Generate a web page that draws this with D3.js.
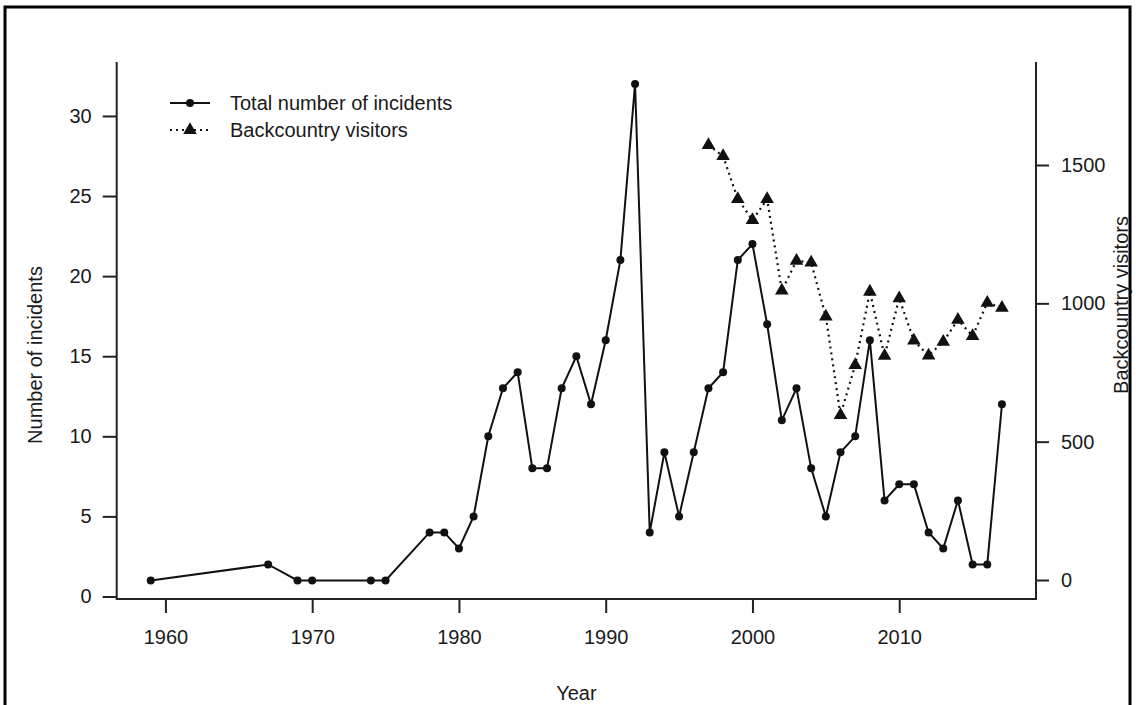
<!DOCTYPE html>
<html>
<head>
<meta charset="utf-8">
<script src="https://cdn.jsdelivr.net/npm/d3@7"></script>
<style>
  html, body { margin: 0; padding: 0; background: #fff; }
  svg { display: block; }
  text { font-family: "Liberation Sans", Arial, Helvetica, sans-serif; fill: #1a1a1a; }
</style>
</head>
<body>
<svg id="chart" width="1136" height="705"></svg>
<script>
// ---- data ----
const incidentYears = [1959,1967,1969,1970,1974,1975,1978,1979,1980,1981,1982,1983,1984,1985,1986,1987,1988,1989,1990,1991,1992,1993,1994,1995,1996,1997,1998,1999,2000,2001,2002,2003,2004,2005,2006,2007,2008,2009,2010,2011,2012,2013,2014,2015,2016,2017];
const incidents = [1,2,1,1,1,1,4,4,3,5,10,13,14,8,8,13,15,12,16,21,32,4,9,5,9,13,14,21,22,17,11,13,8,5,9,10,16,6,7,7,4,3,6,2,2,12];
const visitorYears = [1997,1998,1999,2000,2001,2002,2003,2004,2005,2006,2007,2008,2009,2010,2011,2012,2013,2014,2015,2016,2017];
const visitors = [1572,1532,1377,1301,1377,1046,1154,1147,952,596,777,1042,810,1018,865,811,861,940,882,1002,984];
const xTicks = [1960,1970,1980,1990,2000,2010];
const leftTicks = [0,5,10,15,20,25,30];
const rightTicks = [0,500,1000,1500];
const legendLabels = ["Total number of incidents","Backcountry visitors"];
const xTitle = "Year", leftTitle = "Number of incidents", rightTitle = "Backcountry visitors";

// ---- layout ----
const box = {left: 116.7, right: 1036, top: 62, bottom: 599};
const svg = d3.select("#chart");
const FS = 20;

// outer frame
svg.append("rect").attr("x",5).attr("y",7).attr("width",1125).attr("height",710)
  .attr("fill","none").attr("stroke","#000").attr("stroke-width",3);

const ext = d3.extent(incidentYears), pad = (ext[1]-ext[0])*0.04;
const x = d3.scaleLinear().domain([ext[0]-pad, ext[1]+pad]).range([box.left, box.right]);
const yL = d3.scaleLinear().domain([0,32]).range([596.5, 83.9]);
const yR = d3.scaleLinear().domain([0,1500]).range([580, 165]);

function styleAxis(g){
  g.select(".domain").remove();
  g.selectAll(".tick line").attr("stroke","#222").attr("stroke-width",2);
  g.selectAll(".tick text").attr("font-size",FS).attr("font-family",null).attr("fill","#1a1a1a");
}

svg.append("g").attr("transform",`translate(0,${box.bottom})`)
  .call(d3.axisBottom(x).tickValues(xTicks).tickFormat(d3.format("d")).tickSize(14).tickPadding(17))
  .call(styleAxis);
svg.append("g").attr("transform",`translate(${box.left},0)`)
  .call(d3.axisLeft(yL).tickValues(leftTicks).tickFormat(d3.format("d")).tickSize(14).tickPadding(11))
  .call(styleAxis);
svg.append("g").attr("transform",`translate(${box.right},0)`)
  .call(d3.axisRight(yR).tickValues(rightTicks).tickFormat(d3.format("d")).tickSize(13).tickPadding(12))
  .call(styleAxis);

// box (bty="u")
svg.append("path")
  .attr("d",`M${box.left},${box.top}V${box.bottom}H${box.right}V${box.top}`)
  .attr("fill","none").attr("stroke","#222").attr("stroke-width",2);

// titles
svg.append("text").attr("x",(box.left+box.right)/2).attr("y",700).attr("text-anchor","middle")
  .attr("font-size",FS).text(xTitle);
svg.append("text").attr("transform","translate(42,355) rotate(-90)").attr("text-anchor","middle")
  .attr("font-size",FS).text(leftTitle);
svg.append("text").attr("transform","translate(1128,305) rotate(-90)").attr("text-anchor","middle")
  .attr("font-size",FS).text(rightTitle);

// incidents line
const incData = incidentYears.map((d,i)=>({x:d,y:incidents[i]}));
svg.append("path").datum(incData)
  .attr("d", d3.line().x(d=>x(d.x)).y(d=>yL(d.y)))
  .attr("fill","none").attr("stroke","#111").attr("stroke-width",2);
svg.append("g").selectAll("circle").data(incData).join("circle")
  .attr("cx",d=>x(d.x)).attr("cy",d=>yL(d.y)).attr("r",4).attr("fill","#111");

// visitors line
const visData = visitorYears.map((d,i)=>({x:d,y:visitors[i]}));
svg.append("path").datum(visData)
  .attr("d", d3.line().x(d=>x(d.x)).y(d=>yR(d.y)))
  .attr("fill","none").attr("stroke","#111").attr("stroke-width",2.2).attr("stroke-dasharray","2,4");
const tri = d3.symbol().type(d3.symbolTriangle).size(80);
svg.append("g").selectAll("path").data(visData).join("path")
  .attr("transform",d=>`translate(${x(d.x)},${yR(d.y)})`).attr("d",tri).attr("fill","#111");

// legend
const lg = svg.append("g");
lg.append("line").attr("x1",170).attr("x2",210).attr("y1",103).attr("y2",103).attr("stroke","#111").attr("stroke-width",2);
lg.append("circle").attr("cx",190).attr("cy",103).attr("r",4).attr("fill","#111");
lg.append("line").attr("x1",170).attr("x2",210).attr("y1",130).attr("y2",130).attr("stroke","#111").attr("stroke-width",2).attr("stroke-dasharray","2,4");
lg.append("path").attr("transform","translate(190,130)").attr("d",tri).attr("fill","#111");
lg.selectAll("text.l").data(legendLabels).join("text").attr("class","l")
  .attr("x",230).attr("y",(d,i)=>103+i*27).attr("dy","0.36em").attr("font-size",FS).text(d=>d);
</script>
</body>
</html>
